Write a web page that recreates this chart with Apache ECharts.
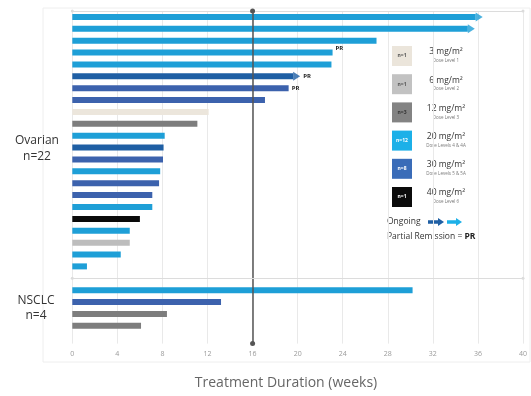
<!DOCTYPE html>
<html>
<head>
<meta charset="utf-8">
<script src="https://cdn.jsdelivr.net/npm/echarts@6/dist/echarts.min.js"></script>
<style>
  html, body { margin: 0; padding: 0; background: #fff; }
  #chart { width: 531px; height: 396px; }
</style>
</head>
<body>
<div id="chart"></div>
<script>
// Rows from top to bottom: 22 ovarian patients, a spacer, 4 NSCLC patients, a bottom spacer
const ovarianRows = ['O1','O2','O3','O4','O5','O6','O7','O8','O9','O10','O11',
  'O12','O13','O14','O15','O16','O17','O18','O19','O20','O21','O22'];
const nsclcRows = ['N1','N2','N3','N4'];

// Treatment duration in weeks
const ovarianWeeks = [35.8, 35.1, 27.0, 23.1, 23.0, 19.6, 19.2, 17.1, 12.1, 11.1, 8.2,
  8.1, 8.05, 7.8, 7.7, 7.1, 7.1, 6.0, 5.1, 5.1, 4.3, 1.3];
const nsclcWeeks = [30.2, 13.2, 8.4, 6.1];

// Dose (mg/m²) given to each patient
const ovarianDose = [20, 20, 20, 20, 20, 30, 30, 30, 3, 12, 20,
  30, 30, 20, 30, 30, 20, 40, 20, 6, 20, 20];
const nsclcDose = [20, 30, 12, 12];

// Patients still on treatment, and patients with partial remission
const ongoingRows = ['O1', 'O2', 'O6'];
const prRows = ['O4', 'O6', 'O7'];

// Dose levels for the key
const doseLevels = [3, 6, 12, 20, 30, 40];
const doseCounts = [1, 1, 3, 12, 8, 1];
const doseLevelNames = ['Dose Level 1', 'Dose Level 2', 'Dose Level 3',
  'Dose Levels 4 & 4A', 'Dose Levels 5 & 5A', 'Dose Level 6'];

const xTicks = [0, 4, 8, 12, 16, 20, 24, 28, 32, 36, 40];
const refWeek = 16;

// ---- styling ----
const doseColor = { 3: '#ece6dc', 6: '#bdbdbd', 12: '#7d7d7d', 20: '#1e9fd7', 30: '#3c62ad', 40: '#0a0a0a' };
const keyColor = { 3: '#ebe5db', 6: '#c2c2c2', 12: '#838383', 20: '#1cb0e8', 30: '#3a6cb8', 40: '#0b0b0b' };
const keyTextColor = { 3: '#555', 6: '#555', 12: '#333', 20: '#fff', 30: '#fff', 40: '#fff' };
const deepShadeRows = new Set(['O6', 'O12']);
const deepBlue = '#1f5fa4';
const FONT = '"Open Sans", "Liberation Sans", sans-serif';

const categories = [...ovarianRows, 'gap', ...nsclcRows, 'end'];
const weekByRow = {};
const doseByRow = {};
ovarianRows.forEach((r, i) => { weekByRow[r] = ovarianWeeks[i]; doseByRow[r] = ovarianDose[i]; });
nsclcRows.forEach((r, i) => { weekByRow[r] = nsclcWeeks[i]; doseByRow[r] = nsclcDose[i]; });

function rowColor(r) {
  return deepShadeRows.has(r) ? deepBlue : doseColor[doseByRow[r]];
}

const barData = categories.map(r => {
  if (weekByRow[r] === undefined) return null;
  const item = { value: weekByRow[r], itemStyle: { color: rowColor(r) } };
  if (prRows.includes(r)) {
    const onArrow = ongoingRows.includes(r);
    item.label = {
      show: true, position: 'right', formatter: 'PR',
      distance: onArrow ? 10 : 3,
      offset: r === 'O4' ? [0, -4] : [0, 0],
      fontSize: 6, fontWeight: 'bold', color: '#222', fontFamily: FONT
    };
  }
  return item;
});

const arrowData = ongoingRows.map(r => ({
  value: [weekByRow[r], r],
  itemStyle: { color: rowColor(r) }
}));

// key on the right
const keyGraphics = [];
const keyX = 392, keyY0 = 46, keyStep = 28.2;
doseLevels.forEach((d, i) => {
  const y = keyY0 + i * keyStep;
  keyGraphics.push({
    type: 'rect', left: keyX, top: y, shape: { width: 20, height: 20 },
    style: { fill: keyColor[d] }
  });
  keyGraphics.push({
    type: 'text', x: keyX + 10, y: y + 10,
    style: { text: 'n=' + doseCounts[i], fill: keyTextColor[d], fontSize: 5, fontWeight: 'bold',
      fontFamily: FONT, align: 'center', verticalAlign: 'middle' }
  });
  keyGraphics.push({
    type: 'text', x: 446, y: y + 6,
    style: { text: d + ' mg/m²', fill: '#333', fontSize: 8.5, fontFamily: FONT,
      align: 'center', verticalAlign: 'middle' }
  });
  keyGraphics.push({
    type: 'text', x: 446, y: y + 15,
    style: { text: doseLevelNames[i], fill: '#777', fontSize: 4.5, fontFamily: FONT,
      align: 'center', verticalAlign: 'middle' }
  });
});

function arrowShape(x0, x1, yc) {
  return [[x0, yc - 1.8], [x1 - 6, yc - 1.8], [x1 - 6, yc - 4], [x1, yc], [x1 - 6, yc + 4],
    [x1 - 6, yc + 1.8], [x0, yc + 1.8]];
}

keyGraphics.push(
  { type: 'text', x: 387, y: 221.5,
    style: { text: 'Ongoing', fill: '#333', fontSize: 8.5, fontFamily: FONT, verticalAlign: 'middle' } },
  { type: 'polygon', shape: { points: arrowShape(428, 444, 222) }, style: { fill: deepBlue } },
  { type: 'polygon', shape: { points: arrowShape(447, 462, 222) }, style: { fill: keyColor[20] } },
  { type: 'text', x: 387, y: 237,
    style: { rich: { a: { fill: '#333', fontSize: 8.5, fontFamily: FONT },
                     b: { fill: '#222', fontSize: 8.5, fontWeight: 'bold', fontFamily: FONT } },
             text: '{a|Partial Remission = }{b|PR}', verticalAlign: 'middle' } }
);

const chart = echarts.init(document.getElementById('chart'), null, { renderer: 'canvas' });

chart.setOption({
  animation: false,
  backgroundColor: '#fff',
  grid: { left: 72.3, right: 8, top: 11, bottom: 52.4 },
  xAxis: [
    {
      type: 'value', min: 0, max: 40, interval: 4, position: 'bottom',
      axisLine: { show: false }, axisTick: { show: false },
      axisLabel: { fontSize: 7, color: '#9a9a9a', margin: 7, fontFamily: FONT,
        customValues: xTicks },
      splitLine: { show: true, lineStyle: { color: '#e9e9e9', width: 1 } }
    },
    {
      type: 'value', min: 0, max: 40, position: 'top',
      axisLine: { show: true, lineStyle: { color: '#dcdcdc', width: 1 },
        symbol: ['circle', 'circle'], symbolSize: [3, 3] },
      axisTick: { show: false }, axisLabel: { show: false }, splitLine: { show: false }
    }
  ],
  yAxis: {
    type: 'category', data: categories, inverse: true,
    axisLine: { show: false }, axisTick: { show: false }, axisLabel: { show: false },
    splitLine: { show: false }
  },
  series: [
    {
      type: 'bar', data: barData, barWidth: 6, xAxisIndex: 0,
      markLine: {
        silent: true, animation: false,
        symbol: ['circle', 'circle'], symbolSize: 5,
        label: { show: false },
        lineStyle: { color: '#555', width: 1.5, type: 'solid' },
        data: [{ xAxis: refWeek }]
      }
    },
    {
      type: 'scatter', data: arrowData, xAxisIndex: 0,
      symbol: 'path://M0,0 L10,5 L0,10 Z', symbolSize: [7, 9], symbolOffset: [3.5, 0],
      z: 3,
      // divider between the two tumour groups
      markLine: {
        silent: true, animation: false,
        symbol: ['circle', 'circle'], symbolSize: 3,
        label: { show: false },
        lineStyle: { color: '#dcdcdc', width: 1, type: 'solid' },
        data: [{ yAxis: 'gap' }]
      }
    }
  ],
  graphic: [
    { type: 'rect', left: 40.5, top: 5.5, shape: { width: 487, height: 354 },
      style: { fill: 'none', stroke: '#eeeeee', lineWidth: 1 }, z: -1 },
    { type: 'text', x: 37, y: 141,
      style: { text: 'Ovarian', fill: '#333', fontSize: 12, fontFamily: FONT, align: 'center', verticalAlign: 'middle' } },
    { type: 'text', x: 37, y: 157,
      style: { text: 'n=22', fill: '#333', fontSize: 12, fontFamily: FONT, align: 'center', verticalAlign: 'middle' } },
    { type: 'text', x: 36, y: 301,
      style: { text: 'NSCLC', fill: '#333', fontSize: 12, fontFamily: FONT, align: 'center', verticalAlign: 'middle' } },
    { type: 'text', x: 36, y: 316,
      style: { text: 'n=4', fill: '#333', fontSize: 12, fontFamily: FONT, align: 'center', verticalAlign: 'middle' } },
    { type: 'text', x: 286, y: 383,
      style: { text: 'Treatment Duration (weeks)', fill: '#666', fontSize: 14, fontFamily: FONT,
        align: 'center', verticalAlign: 'middle' } },
    ...keyGraphics
  ]
});
</script>
</body>
</html>
